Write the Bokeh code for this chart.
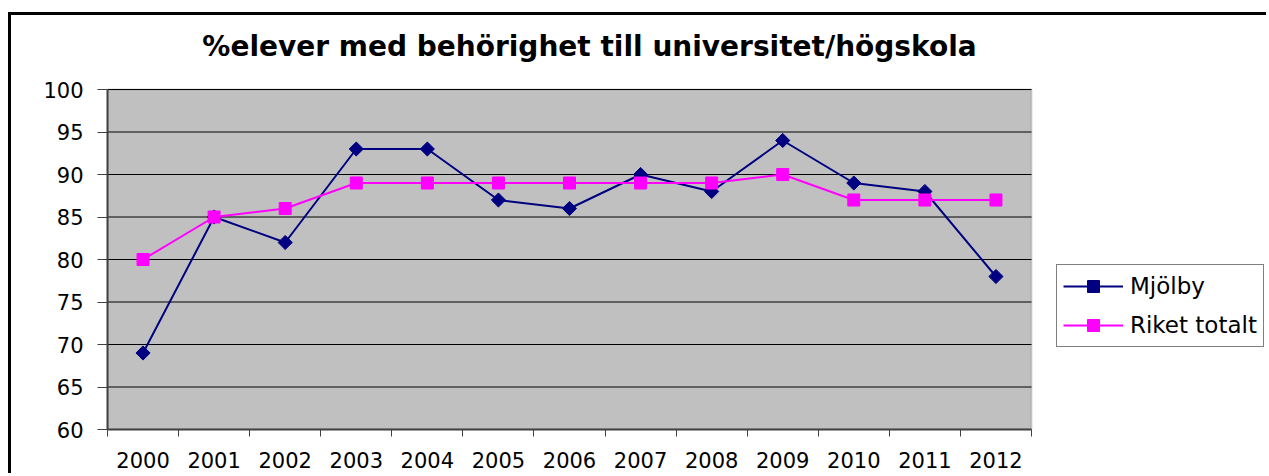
from bokeh.plotting import figure
from bokeh.models import Range1d, FixedTicker, Legend, LegendItem, BoxAnnotation, Label
from bokeh.embed import file_html
from bokeh.resources import INLINE

years = [2000, 2001, 2002, 2003, 2004, 2005, 2006, 2007, 2008, 2009, 2010, 2011, 2012]
mjolby = [69, 85, 82, 93, 93, 87, 86, 90, 88, 94, 89, 88, 78]
riket = [80, 85, 86, 89, 89, 89, 89, 89, 89, 90, 87, 87, 87]
y_ticks = [60, 65, 70, 75, 80, 85, 90, 95, 100]
title_text = "%elever med behörighet till universitet/högskola"
series_names = ["Mjölby", "Riket totalt"]

FONT = "DejaVu Sans"

# layout (pixels): plot area inside a larger frame that also holds title and legend
PLOT_W, PLOT_H = 924, 340
FRAME_W, FRAME_H = 1162, 414
x0, x1 = years[0] - 0.5, years[-1] + 0.5
y0, y1 = y_ticks[0], y_ticks[-1]

p = figure(width=1258, height=461, output_backend="svg", toolbar_location=None,
           x_range=Range1d(x0, x0 + (x1 - x0) * FRAME_W / PLOT_W),
           y_range=Range1d(y0, y0 + (y1 - y0) * FRAME_H / PLOT_H),
           min_border_left=96, min_border_right=0, min_border_top=0, min_border_bottom=47,
           background_fill_color="white", border_fill_color="white")
p.styles = {"border-left": "3px solid black", "border-top": "3px solid black",
            "margin-left": "8px", "margin-top": "12px"}
p.outline_line_color = None
p.xgrid.grid_line_color = None
p.ygrid.grid_line_color = None

# plot area background
area = BoxAnnotation(left=x0, right=x1, bottom=y0, top=y1,
                     fill_color="#C0C0C0", fill_alpha=1,
                     line_color="#808080", line_width=2, level="underlay")
p.add_layout(area)

# horizontal gridlines
p.segment(x0=[x0] * len(y_ticks), x1=[x1] * len(y_ticks), y0=y_ticks, y1=y_ticks,
          line_color="black", line_width=1)

# y axis
p.yaxis.ticker = FixedTicker(ticks=y_ticks)
p.yaxis.bounds = (y0, y1)
p.yaxis.major_label_text_font = FONT
p.yaxis.major_label_text_font_size = "21px"
p.yaxis.major_label_text_color = "black"
p.yaxis.major_tick_out = 10
p.yaxis.major_tick_in = 0
p.yaxis.major_tick_line_color = "#404040"
p.yaxis.minor_tick_line_color = None
p.yaxis.major_label_standoff = 14
p.yaxis.axis_line_color = "#404040"
p.yaxis.axis_line_width = 2

# x axis: labels at years, ticks between years
half = [y - 0.5 for y in years] + [years[-1] + 0.5]
p.xaxis.ticker = FixedTicker(ticks=years, minor_ticks=half)
p.xaxis.bounds = (x0, x1)
p.xaxis.major_tick_line_color = None
p.xaxis.minor_tick_line_color = "#404040"
p.xaxis.minor_tick_out = 7
p.xaxis.minor_tick_in = 0
p.xaxis.major_label_text_font = FONT
p.xaxis.major_label_text_font_size = "21px"
p.xaxis.major_label_text_color = "black"
p.xaxis.major_label_standoff = 15
p.xaxis.axis_line_color = "#404040"
p.xaxis.axis_line_width = 2

l1 = p.line(years, mjolby, line_color="#000080", line_width=2)
s1 = p.scatter(years, mjolby, marker="square", angle=0.785398, size=10,
               fill_color="#000080", line_color="#000080")
l2 = p.line(years, riket, line_color="#FF00FF", line_width=2)
s2 = p.scatter(years, riket, marker="square", size=12,
               fill_color="#FF00FF", line_color="#FF00FF")

title = Label(x=482, y=383, x_units="screen", y_units="screen", text=title_text,
              text_align="center", text_baseline="alphabetic",
              text_font=FONT, text_font_size="28px", text_font_style="bold",
              text_color="black")
p.add_layout(title)

legend = Legend(items=[LegendItem(label=series_names[0], renderers=[l1, s1]),
                       LegendItem(label=series_names[1], renderers=[l2, s2])],
                location=(949, 82), orientation="vertical")
legend.label_text_font = FONT
legend.label_text_font_size = "23px"
legend.label_text_color = "black"
legend.glyph_width = 60
legend.glyph_height = 30
legend.label_standoff = 7
legend.padding = 6
legend.spacing = 9
legend.margin = 0
legend.border_line_color = "black"
legend.border_line_width = 1
legend.background_fill_color = "white"
legend.background_fill_alpha = 1
p.add_layout(legend, "center")

open("out.html", "w").write(file_html(p, INLINE))
